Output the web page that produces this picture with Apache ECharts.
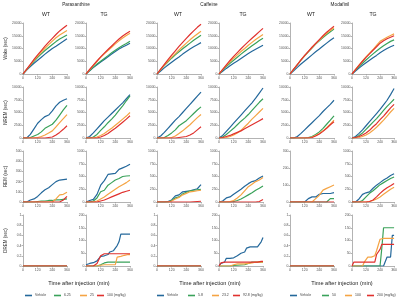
<!DOCTYPE html>
<html>
<head>
<meta charset="utf-8">
<script src="https://cdn.jsdelivr.net/npm/echarts@6/dist/echarts.min.js"></script>
<style>
html,body{margin:0;padding:0;background:#fff}
#chart{width:400px;height:299px}
</style>
</head>
<body>
<div id="chart"></div>
<script>
// time axis (min after injection)
var t30 = [0,30,60,90,120,150,180,210,240,270,300,330,360];
var t15 = [0,15,30,45,60,75,90,105,120,135,150,165,180,195,210,225,240,255,270,285,300,315,330,345,360];

var drugs = ['Paraxanthine', 'Caffeine', 'Modafinil'];
var genotypes = ['WT', 'TG', 'WT', 'TG', 'WT', 'TG'];
var stages = ['Wake (sec)', 'NREM (sec)', 'REM (sec)', 'DREM (sec)'];
var paraDoses = ['Vehicle', '6.25', '25', '100 (mg/kg)'];
var cafDoses = ['Vehicle', '5.8', '23.2', '92.8 (mg/kg)'];
var modDoses = ['Vehicle', '50', '100', '200 (mg/kg)'];
var xTicks = [0, 120, 240, 360];

// ---- Wake (cumulative sec), order: vehicle, low, mid, high
var wakeParaWT = [
  [0,1500,2900,4200,5400,6600,7800,8900,10000,10900,11900,12800,13800],
  [0,1700,3400,5000,6500,7900,9200,10400,11600,12700,13700,14500,15300],
  [0,1800,3600,5300,7000,8600,10100,11500,12900,14200,15300,16200,17100],
  [0,1900,3800,5700,7500,9200,10900,12500,14000,15500,16900,18000,19100]
];
var wakeParaTG = [
  [0,1300,2500,3600,4700,5700,6800,7800,8800,9800,10600,11300,12050],
  [0,1400,2700,3900,5000,6100,7200,8300,9300,10300,11200,12000,12850],
  [0,1700,3400,5000,6500,7900,9200,10500,11800,13000,14100,15100,16000],
  [0,1800,3500,5100,6700,8200,9600,11000,12400,13700,14900,15900,16800]
];
var wakeCafWT = [
  [0,1200,2400,3500,4600,5700,6700,7800,8800,9800,10700,11500,12300],
  [0,1700,3300,4800,6200,7500,8700,9900,11000,12100,13200,14200,15200],
  [0,1800,3500,5100,6600,8000,9400,10800,12100,13400,14600,15700,16800],
  [0,1900,3800,5600,7400,9100,10800,12400,14000,15500,16900,18300,19500]
];
var wakeCafTG = [
  [0,1100,2200,3200,4200,5100,6100,7100,8000,8900,9700,10500,11300],
  [0,1500,2900,4200,5400,6600,7800,8900,10000,11100,12100,13100,14000],
  [0,1700,3300,4800,6200,7500,8800,10000,11300,12400,13500,14500,15500],
  [0,1800,3600,5300,6900,8400,9900,11300,12700,14000,15300,16600,17900]
];
var wakeModWT = [
  [0,1300,2600,3900,5100,6300,7500,8700,9800,11000,12100,13200,14200],
  [0,1800,3600,5400,7100,8700,10200,11700,13000,14300,15500,16600,17600],
  [0,1800,3700,5500,7200,8800,10400,11900,13300,14700,16000,17100,18100],
  [0,1900,3700,5500,7300,8900,10500,12000,13500,15000,16400,17600,18700]
];
var wakeModTG = [
  [0,1200,2300,3400,4400,5400,6400,7300,8300,9200,10000,10700,11300],
  [0,1500,2900,4200,5500,6700,7900,9000,10100,11100,12000,12800,13400],
  [0,1800,3500,5100,6700,8200,9600,11200,12800,13600,14400,15100,15750],
  [0,1700,3400,5000,6500,7900,9300,10700,12100,13000,13800,14400,15000]
];

// ---- NREM
var nremParaWT = [
  [0,0,700,1800,2900,3600,4200,4500,5300,6300,7000,7400,7700],
  [0,0,100,400,700,1200,1900,2300,2700,3500,4500,5500,6400],
  [0,0,0,0,100,300,600,1000,1400,2200,3000,3800,4600],
  [0,0,0,0,0,0,0,100,200,600,1100,1700,2400]
];
var nremParaTG = [
  [0,300,1000,1800,2600,3400,4100,4800,5500,6200,6900,7700,8500],
  [0,0,200,700,1500,2200,3000,3700,4500,5400,6300,7300,8250],
  [0,0,0,200,500,900,1400,1900,2500,3100,3700,4300,5000],
  [0,0,0,0,200,500,900,1400,1900,2500,3100,3700,4350]
];
var nremCafWT = [
  [0,400,1100,1900,2700,3500,4200,5000,5800,6600,7400,8200,9000],
  [0,0,100,500,1000,1600,2400,2900,3400,4100,4800,5500,6100],
  [0,0,0,0,100,400,900,1400,2000,2600,3300,4000,4600],
  [0,0,0,0,0,0,100,200,300,600,1000,1600,2200]
];
var nremCafTG = [
  [0,500,1300,2100,2900,3700,4500,5300,6100,6900,7800,8800,9800],
  [0,200,700,1300,1900,2600,3300,3900,4600,5400,6200,7000,7700],
  [0,0,100,300,600,1000,1500,2200,2900,3700,4400,5100,5800],
  [0,100,300,500,800,1100,1400,1800,2200,2600,3000,3400,3800]
];
var nremModWT = [
  [0,0,300,900,1600,2300,3000,3700,4400,5200,5900,6600,7400],
  [0,0,0,0,0,100,300,700,1200,1900,2700,3500,4350],
  [0,0,0,0,0,0,200,500,900,1400,2000,2700,3500],
  [0,0,0,0,0,0,100,400,800,1300,1900,2600,3200]
];
var nremModTG = [
  [0,300,900,1600,2400,3200,4000,4800,5600,6500,7400,8500,9700],
  [0,100,500,1000,1700,2400,3100,3800,4600,5400,6200,6900,7600],
  [0,0,100,300,600,1000,1500,2100,2800,3500,4300,5100,5800],
  [0,100,300,600,1000,1500,2200,2800,3600,4300,5100,5900,6600]
];

// ---- REM
var remParaWT = [
  [0,0,20,30,55,90,120,140,170,200,215,220,225],
  [0,0,0,0,5,10,10,15,15,20,20,25,30],
  [0,0,0,0,0,0,0,0,0,30,70,75,95],
  [0,0,0,0,0,0,0,0,0,0,0,20,55]
];
var remParaTG = [
  [0,30,50,150,330,420,540,550,560,640,670,700,740],
  [0,0,20,80,200,230,330,380,430,460,500,510,515],
  [0,0,0,20,60,100,150,200,250,300,340,380,430],
  [0,0,0,0,20,40,70,100,130,160,190,210,230]
];
var remCafWT = [
  [0,0,0,10,40,120,140,200,210,220,240,260,340],
  [0,0,0,0,30,80,100,160,190,220,230,240,250],
  [0,0,0,0,20,60,90,140,170,200,210,220,230],
  [0,0,0,0,0,0,0,0,0,0,5,10,15]
];
var remCafTG = [
  [0,20,80,100,150,200,250,310,360,400,420,470,510],
  [0,0,0,0,10,30,60,100,140,180,230,270,315],
  [0,0,0,10,30,80,140,220,300,350,400,430,480],
  [0,0,0,0,0,0,0,0,0,0,0,10,50]
];
var remModWT = [
  [0,0,0,0,0,20,30,30,45,50,50,50,55],
  [0,0,0,0,0,0,0,0,0,0,0,20,20],
  [0,0,0,0,0,0,0,20,40,70,80,90,100],
  [0,0,0,0,0,0,0,0,0,0,0,0,0]
];
var remModTG = [
  [0,0,60,150,180,200,270,330,380,430,470,520,555],
  [0,0,0,30,100,170,220,280,340,380,420,460,490],
  [0,0,0,0,0,10,30,60,100,150,200,250,290],
  [0,0,0,0,0,10,40,100,170,230,280,320,365]
];

// ---- DREM (WT: none; TG on 15-min points)
var dremWT = [
  [0,0,0,0,0,0,0,0,0,0,0,0,0],
  [0,0,0,0,0,0,0,0,0,0,0,0,0],
  [0,0,0,0,0,0,0,0,0,0,0,0,0],
  [0,0,0,0,0,0,0,0,0,0,0,0,0]
];
var dremParaTG = [
  [5,8,10,12,13,15,20,25,38,40,40,42,45,55,55,60,65,80,95,125,125,125,125,125,125],
  [0,0,0,0,0,0,0,0,5,10,12,14,15,15,15,15,15,15,15,15,15,15,15,15,15],
  [0,0,0,0,0,0,0,0,3,5,5,5,5,5,5,5,5,35,35,38,40,42,45,45,45],
  [0,0,0,0,0,0,10,10,40,42,48,48,48,48,48,48,48,48,48,48,48,48,48,48,48]
];
var dremCafTG = [
  [0,10,15,15,30,30,30,30,32,35,40,45,50,50,55,70,70,75,75,75,75,75,80,95,112],
  [0,0,0,0,0,0,0,0,2,3,3,4,4,5,5,5,10,15,15,15,15,15,15,15,15],
  [0,0,0,0,0,0,0,0,5,8,8,8,8,8,8,10,10,12,12,14,15,15,15,15,15],
  [0,12,15,15,15,15,15,15,15,15,15,15,15,15,15,15,15,15,15,15,15,15,17,18,18]
];
var dremModTG = [
  [0,0,0,0,0,0,0,0,0,0,0,0,0,0,0,0,0,0,0,0,35,35,35,120,120],
  [0,0,0,0,0,0,0,0,0,0,0,0,0,0,0,0,0,70,150,150,150,150,150,150,150],
  [0,0,0,0,0,0,0,15,15,35,35,35,40,40,60,60,105,108,108,108,108,108,108,108,108],
  [0,15,15,15,15,15,15,15,15,15,15,15,15,15,45,45,65,85,85,85,85,85,85,85,85]
];

// y scale per row/column
var yMax = [
  [20000,20000,20000,20000,20000,20000],
  [10000,10000,10000,10000,10000,10000],
  [500,1000,1000,1000,300,1000],
  [1,200,1,200,1,200]
];
var yStep = [
  [5000,5000,5000,5000,5000,5000],
  [2500,2500,2500,2500,2500,2500],
  [100,250,250,250,100,250],
  [0.2,50,0.2,50,0.2,50]
];

var panelData = [
  [wakeParaWT, wakeParaTG, wakeCafWT, wakeCafTG, wakeModWT, wakeModTG],
  [nremParaWT, nremParaTG, nremCafWT, nremCafTG, nremModWT, nremModTG],
  [remParaWT, remParaTG, remCafWT, remCafTG, remModWT, remModTG],
  [dremWT, dremParaTG, dremWT, dremCafTG, dremWT, dremModTG]
];
var panelTime = [
  [t30,t30,t30,t30,t30,t30],
  [t30,t30,t30,t30,t30,t30],
  [t30,t30,t30,t30,t30,t30],
  [t30,t15,t30,t15,t30,t15]
];

// layout
var colLeft = [23, 86, 157, 219, 290, 352];
var colWidth = [44, 44, 44, 44, 44, 43];
var rowTop = [23, 87, 151, 215];
var rowHeight = 51;
var colors = ['#24689b', '#3aa25a', '#f5a444', '#e0312e'];
var FONT = '"Liberation Sans", Arial, sans-serif';
var axisGray = '#a0a0a0';

var chart = echarts.init(document.getElementById('chart'));

function dosesFor(c) {
  return c < 2 ? paraDoses : (c < 4 ? cafDoses : modDoses);
}

var grids = [], xAxes = [], yAxes = [], series = [];
for (var r = 0; r < 4; r++) {
  for (var c = 0; c < 6; c++) {
    var idx = r * 6 + c;
    grids.push({ left: colLeft[c], top: rowTop[r], width: colWidth[c], height: rowHeight });
    xAxes.push({
      gridIndex: idx, type: 'value', min: 0, max: 360, interval: 120,
      axisLine: { lineStyle: { color: axisGray, width: 0.8 } },
      axisTick: { length: 1.5, lineStyle: { color: axisGray, width: 0.8 } },
      axisLabel: { fontSize: 3.5, color: '#555', margin: 2, fontFamily: FONT },
      splitLine: { show: false }
    });
    yAxes.push({
      gridIndex: idx, type: 'value', min: 0, max: yMax[r][c], interval: yStep[r][c],
      name: c === 0 ? stages[r] : '',
      nameLocation: 'middle', nameRotate: 90, nameGap: 15,
      nameTextStyle: { fontSize: 4.5, color: '#333', fontFamily: FONT },
      axisLine: { show: true, lineStyle: { color: axisGray, width: 0.8 } },
      axisTick: { show: true, length: 1.5, lineStyle: { color: axisGray, width: 0.8 } },
      axisLabel: { fontSize: 3.4, color: '#555', margin: 1.5, fontFamily: FONT,
        formatter: function (v) { return String(v); } },
      splitLine: { show: false }
    });
    var doses = dosesFor(c);
    var sets = panelData[r][c];
    var tt = panelTime[r][c];
    for (var k = 0; k < 4; k++) {
      var pts = [];
      for (var i = 0; i < tt.length; i++) pts.push([tt[i], sets[k][i]]);
      series.push({
        type: 'line', name: doses[k], xAxisIndex: idx, yAxisIndex: idx,
        data: pts, showSymbol: false, symbol: 'none',
        lineStyle: { width: 1.2, color: colors[k] },
        itemStyle: { color: colors[k] }
      });
    }
  }
}

// legend items, one per dose so each sits where it does in the figure
var legendLeft = [[25, 54, 80, 97], [157, 188, 212, 233], [290, 322, 345, 367]];
var legends = [];
[paraDoses, cafDoses, modDoses].forEach(function (ds, g) {
  ds.forEach(function (d, k) {
    legends.push({
      data: [d], left: legendLeft[g][k], top: 293.5, padding: 0,
      icon: 'rect', itemWidth: 7, itemHeight: 1.6, itemGap: 2,
      itemStyle: { color: colors[k] },
      textStyle: { fontSize: 3.5, color: '#444', fontFamily: FONT, padding: [0, 0, 0, -2] }
    });
  });
});

function label(text, x, y, size, color) {
  return {
    type: 'text', x: x, y: y, silent: true,
    style: { text: text, fill: color || '#222', font: size + 'px ' + FONT,
      textAlign: 'center', textVerticalAlign: 'middle', align: 'center', verticalAlign: 'middle' }
  };
}

var drugX = [76, 209, 340];
var genoX = [46, 104, 178, 243, 311, 373];
var timeX = [79, 210, 342];
var texts = [];
drugs.forEach(function (d, i) { texts.push(label(d, drugX[i], 5, 4.7)); });
genotypes.forEach(function (g, i) { texts.push(label(g, genoX[i], 15, 5.2)); });
timeX.forEach(function (x) { texts.push(label('Time after injection (min)', x, 283, 5.6)); });

chart.setOption({
  animation: false,
  backgroundColor: '#fff',
  grid: grids,
  xAxis: xAxes,
  yAxis: yAxes,
  legend: legends,
  graphic: texts,
  series: series
});
</script>
</body>
</html>
